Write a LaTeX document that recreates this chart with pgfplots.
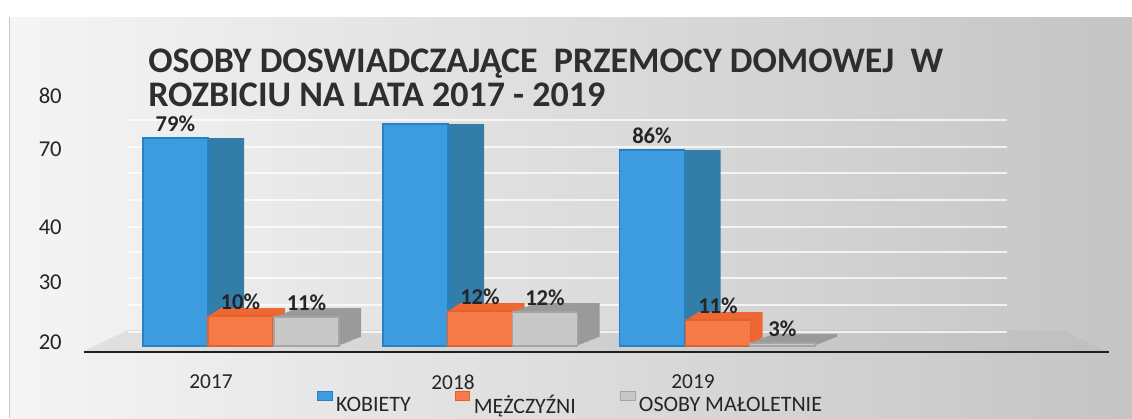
\documentclass[border=0pt]{standalone}
\usepackage{pgfplots}
\pgfplotsset{compat=1.18}
\usepackage{pgfplotstable}
\usepackage{fontspec}
\setmainfont{Carlito}
\definecolor{kobF}{HTML}{3D9BE0}
\definecolor{kobD}{HTML}{2283CC}
\definecolor{kobS}{HTML}{337DA9}
\definecolor{menF}{HTML}{F57C48}
\definecolor{menD}{HTML}{E5602A}
\definecolor{menS}{HTML}{EE6833}
\definecolor{osoF}{HTML}{C8C8C8}
\definecolor{osoD}{HTML}{A5A5A5}
\definecolor{osoS}{HTML}{9A9A9A}
\definecolor{titc}{HTML}{2E2E2E}
\definecolor{txt}{HTML}{252525}

% x = horizontal position of the front face centre, y = bar height (picture units), p = percentage label
\pgfplotstableread{
x y
175.5 208
415.5 222
652 196
}\kobiety
\pgfplotstableread{
x y p
175.5 208 79
652 196 86
}\kobietylab
\pgfplotstableread{
x y p
240.5 30 10
480 35 12
718 26 11
}\mezczyzni
\pgfplotstableread{
x y p
306.5 29 11
545 34 12
782.5 3 3
}\maloletnie

\begin{document}
\begin{tikzpicture}[x=0.75pt,y=-0.75pt]
\useasboundingbox (0,0) rectangle (1132,418);
\fill[white] (0,0) rectangle (1132,418);
\shade[left color=white!96!black, right color=black!23] (10,17) rectangle (1132,418);
\draw[black!22, line width=0.6pt] (9,17) -- (9,418);
% floor plane
\shade[left color=black!12, right color=black!25] (82,352) -- (1108,352) -- (1062,330) -- (128,330) -- cycle;
% back wall grid lines
\foreach \g in {120,147,173,200,227,252,278,305,332}
  \draw[white, opacity=0.75, line width=1pt] (128,\g) -- (1007,\g);
% title
\node[anchor=base west, inner sep=0pt, text=titc, font=\bfseries\fontsize{27}{27}\selectfont] at (148,72) {OSOBY DOSWIADCZAJĄCE\ \ PRZEMOCY DOMOWEJ\ \ W};
\node[anchor=base west, inner sep=0pt, text=titc, font=\bfseries\fontsize{27}{27}\selectfont] at (148,106) {ROZBICIU NA LATA 2017 - 2019};

\begin{axis}[
  at={(66pt,-264pt)}, anchor=south west, scale only axis,
  width=766.5pt, height=251.25pt,
  xmin=88, xmax=1110, ymin=-6, ymax=329,
  axis line style={draw=none}, major tick length=0pt,
  /pgf/number format/assume math mode=true,
  xtick={211,453,693}, xticklabels={2017,2018,2019},
  ytick={4,64,119,197,250}, yticklabels={20,30,40,70,80},
  xticklabel style={inner sep=0pt, yshift=-17pt, font=\fontsize{16}{16}\selectfont, text=txt},
  yticklabel style={inner sep=0pt, xshift=-19.5pt, font=\fontsize{17}{17}\selectfont, text=txt},
  legend columns=3,
  legend style={at={(0.2241,-0.157)}, anchor=west, draw=none, fill=none,
    inner sep=0pt, outer sep=0pt, font=\fontsize{16.5}{18}\selectfont, text=txt,
    /tikz/every odd column/.append style={column sep=0.5pt},
    /tikz/every even column/.append style={column sep=31pt}},
  legend image code/.code={\fill[#1] (0pt,3.5pt) rectangle (11pt,10pt);},
  bar width=65,
  every node near coord/.append style={anchor=base, yshift=5pt, text=txt, font=\bfseries\fontsize{17}{17}\selectfont},
]
% depth (side / top faces), built from shifted copies of the bars
\pgfplotsinvokeforeach{1,...,9}{
  \addplot[ybar, bar shift=0pt, fill=kobS, draw=none, forget plot, xshift={#1*3pt}] table[x=x,y=y] {\kobiety};
}
\pgfplotsinvokeforeach{1,...,8}{
  \addplot[ybar, bar shift=0pt, fill=menS, draw=none, forget plot, xshift={#1*1.125pt}, yshift={#1*0.75pt}] table[x=x,y=y] {\mezczyzni};
}
\pgfplotsinvokeforeach{1,...,10}{
  \addplot[ybar, bar shift=0pt, fill=osoS, draw=none, forget plot, xshift={#1*1.65pt}, yshift={#1*0.675pt}] table[x=x,y=y] {\maloletnie};
}
% front faces
\addplot[ybar, bar shift=0pt, fill=kobF, draw=kobD, line width=0.8pt] table[x=x,y=y] {\kobiety};
\addlegendentry{KOBIETY}
\addplot[ybar, bar shift=0pt, fill=menF, draw=menD, line width=0.8pt,
  point meta=explicit, nodes near coords={\pgfmathprintnumber{\pgfplotspointmeta}\%}] table[x=x,y=y,meta=p] {\mezczyzni};
\addlegendentry{MĘŻCZYŹNI}
\addplot[ybar, bar shift=0pt, fill=osoF, draw=osoD, line width=0.8pt,
  point meta=explicit, nodes near coords={\pgfmathprintnumber{\pgfplotspointmeta}\%}] table[x=x,y=y,meta=p] {\maloletnie};
\addlegendentry{OSOBY MAŁOLETNIE}
% labels of the KOBIETY bars
\addplot[draw=none, mark=none, forget plot, point meta=explicit,
  nodes near coords={\pgfmathprintnumber{\pgfplotspointmeta}\%}] table[x=x,y=y,meta=p] {\kobietylab};
\end{axis}
\draw[line width=1.6pt, color=black!88] (84,352) -- (1109,352);
\end{tikzpicture}
\end{document}
